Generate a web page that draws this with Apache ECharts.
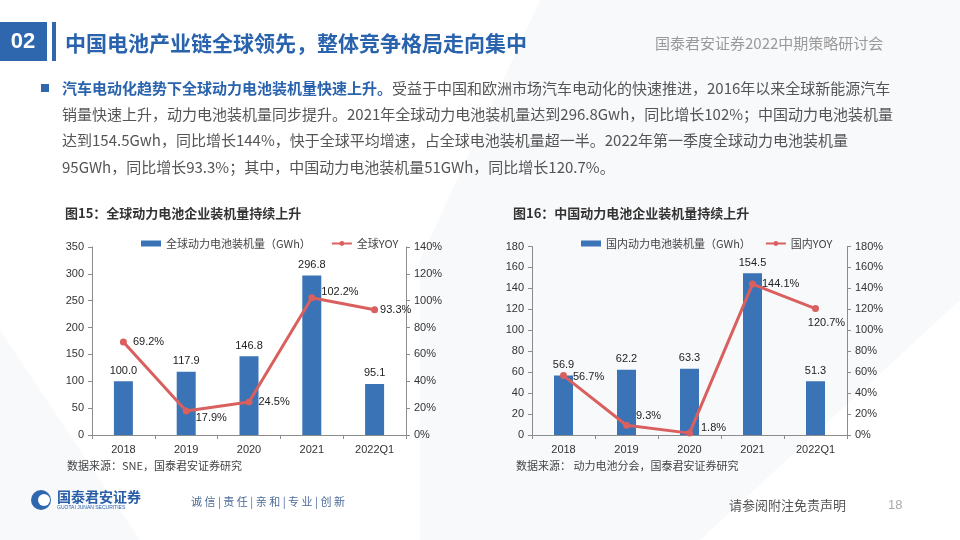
<!DOCTYPE html>
<html><head><meta charset="utf-8">
<script src="https://cdn.jsdelivr.net/npm/echarts@6/dist/echarts.min.js"></script>
<style>html,body{margin:0;padding:0;background:#fff}#c{width:960px;height:540px}</style>
</head><body><div id="c"></div>
<script>
const categories = ['2018', '2019', '2020', '2021', '2022Q1'];
const globalVolume = [100.0, 117.9, 146.8, 296.8, 95.1];
const globalYoY = [69.2, 17.9, 24.5, 102.2, 93.3];
const chinaVolume = [56.9, 62.2, 63.3, 154.5, 51.3];
const chinaYoY = [56.7, 9.3, 1.8, 144.1, 120.7];
const leftTicks1 = { min: 0, max: 350, interval: 50 };
const rightTicks1 = { min: 0, max: 140, interval: 20 };
const leftTicks2 = { min: 0, max: 180, interval: 20 };
const rightTicks2 = { min: 0, max: 180, interval: 20 };

const FONT = '"Liberation Sans", "Noto Sans CJK SC", sans-serif';
const CJK = '"Noto Sans CJK SC", "Liberation Sans", sans-serif';
const BAR = '#3a73b6';
const LINE = '#d9605f';
const AX = '#8c8c8c';

// label placement for line points (style only)
const yoyLabel1 = [
  { position: 'right', offset: [0, 0] },
  { position: 'right', offset: [0, 7] },
  { position: 'right', offset: [0, 0] },
  { position: 'right', offset: [0, -6] },
  { position: 'right', offset: [-4, 0] }
];
const yoyLabel2 = [
  { position: 'right', offset: [0, 1] },
  { position: 'right', offset: [0, -9] },
  { position: 'right', offset: [2, -5] },
  { position: 'right', offset: [0, 0] },
  { position: 'bottom', offset: [11, -1] }
];

function lineData(vals, labels) {
  return vals.map((v, i) => ({ value: v, label: labels[i] }));
}

function yAxisL(t, grid) {
  return {
    type: 'value', gridIndex: grid, min: t.min, max: t.max, interval: t.interval,
    axisLine: { show: true, lineStyle: { color: AX } },
    axisTick: { show: true, length: 4, lineStyle: { color: AX } },
    splitLine: { show: false },
    axisLabel: { color: '#333', fontSize: 11, fontFamily: FONT, margin: 8 }
  };
}
function yAxisR(t, grid) {
  return {
    type: 'value', gridIndex: grid, position: 'right', min: t.min, max: t.max, interval: t.interval,
    axisLine: { show: true, lineStyle: { color: AX } },
    axisTick: { show: true, length: 4, lineStyle: { color: AX } },
    splitLine: { show: false },
    axisLabel: { color: '#333', fontSize: 11, fontFamily: FONT, margin: 8, formatter: '{value}%' }
  };
}
function xAxis(grid) {
  return {
    type: 'category', gridIndex: grid, data: categories,
    axisLine: { lineStyle: { color: AX } },
    axisTick: { show: true, length: 4, lineStyle: { color: AX } },
    axisLabel: { color: '#333', fontSize: 11, fontFamily: FONT, margin: 9 }
  };
}
const lblStyle = { color: '#222', fontSize: 11, fontFamily: FONT };

const chart = echarts.init(document.getElementById('c'), null, { renderer: 'canvas' });
chart.setOption({
  animation: false,
  backgroundColor: '#ffffff',
  grid: [
    { left: 92, right: 554, top: 247, bottom: 105 },
    { left: 532, right: 113, top: 246.5, bottom: 105 }
  ],
  legend: [
    { left: 136, top: 233, itemWidth: 20, itemHeight: 6, itemGap: 20,
      data: [{ name: '全球动力电池装机量（GWh）', icon: 'rect' }, { name: '全球YOY' }],
      textStyle: { fontSize: 11, color: '#444', fontFamily: CJK } },
    { left: 576, top: 233, itemWidth: 20, itemHeight: 6, itemGap: 14,
      data: [{ name: '国内动力电池装机量（GWh）', icon: 'rect' }, { name: '国内YOY' }],
      textStyle: { fontSize: 11, color: '#444', fontFamily: CJK } }
  ],
  xAxis: [xAxis(0), xAxis(1)],
  yAxis: [yAxisL(leftTicks1, 0), yAxisR(rightTicks1, 0), yAxisL(leftTicks2, 1), yAxisR(rightTicks2, 1)],
  series: [
    { name: '全球动力电池装机量（GWh）', type: 'bar', xAxisIndex: 0, yAxisIndex: 0, data: globalVolume,
      barWidth: 19, itemStyle: { color: BAR },
      label: { show: true, position: 'top', distance: 5, formatter: p => p.value.toFixed(1), ...lblStyle } },
    { name: '全球YOY', type: 'line', xAxisIndex: 0, yAxisIndex: 1, data: lineData(globalYoY, yoyLabel1),
      symbol: 'circle', symbolSize: 7, lineStyle: { color: LINE, width: 3 }, itemStyle: { color: LINE },
      label: { show: true, distance: 6, formatter: p => p.value.toFixed(1) + '%', ...lblStyle } },
    { name: '国内动力电池装机量（GWh）', type: 'bar', xAxisIndex: 1, yAxisIndex: 2, data: chinaVolume,
      barWidth: 19, itemStyle: { color: BAR },
      label: { show: true, position: 'top', distance: 5, formatter: p => p.value.toFixed(1), ...lblStyle } },
    { name: '国内YOY', type: 'line', xAxisIndex: 1, yAxisIndex: 3, data: lineData(chinaYoY, yoyLabel2),
      symbol: 'circle', symbolSize: 7, lineStyle: { color: LINE, width: 3 }, itemStyle: { color: LINE },
      label: { show: true, distance: 6, formatter: p => p.value.toFixed(1) + '%', ...lblStyle } }
  ],
  graphic: [
    // faint background shapes
    { type: 'polygon', silent: true, z: -10, shape: { points: [[540, 0], [960, 0], [960, 300], [700, 540], [420, 540], [420, 260]] },
      style: { fill: 'rgba(240,242,246,0.45)' } },
    { type: 'polygon', silent: true, z: -10, shape: { points: [[0, 330], [140, 540], [0, 540]] },
      style: { fill: 'rgba(235,240,246,0.4)' } },
    // header
    { type: 'rect', shape: { x: 0, y: 22, width: 47, height: 39 }, style: { fill: '#2f67ae' } },
    { type: 'text', style: { x: 23, y: 42, text: '02', fill: '#fff', font: 'bold 22px ' + FONT, align: 'center', verticalAlign: 'middle' } },
    { type: 'rect', shape: { x: 52, y: 22, width: 4, height: 39 }, style: { fill: '#2f67ae' } },
    { type: 'text', style: { x: 65, y: 43, text: '中国电池产业链全球领先，整体竞争格局走向集中', fill: '#2a63ad', font: 'bold 21px ' + CJK, verticalAlign: 'middle' } },
    { type: 'text', style: { x: 655, y: 43, text: '国泰君安证券2022中期策略研讨会', fill: '#9a9a9a', font: '15px ' + CJK, verticalAlign: 'middle' } },
    // paragraph
    { type: 'rect', shape: { x: 41, y: 84, width: 8, height: 8 }, style: { fill: '#2f67ae' } },
    { type: 'text', style: { x: 62, y: 88, verticalAlign: 'middle',
      text: '{b|汽车电动化趋势下全球动力电池装机量快速上升。}{n|受益于中国和欧洲市场汽车电动化的快速推进，2016年以来全球新能源汽车}',
      rich: { b: { fill: '#2a63ad', font: 'bold 15px ' + CJK }, n: { fill: '#555', font: '15px ' + CJK } } } },
    { type: 'text', style: { x: 62, y: 114, verticalAlign: 'middle', fill: '#555', font: '15px ' + CJK,
      text: '销量快速上升，动力电池装机量同步提升。2021年全球动力电池装机量达到296.8Gwh，同比增长102%；中国动力电池装机量' } },
    { type: 'text', style: { x: 62, y: 140, verticalAlign: 'middle', fill: '#555', font: '15px ' + CJK,
      text: '达到154.5Gwh，同比增长144%，快于全球平均增速，占全球电池装机量超一半。2022年第一季度全球动力电池装机量' } },
    { type: 'text', style: { x: 62, y: 167, verticalAlign: 'middle', fill: '#555', font: '15px ' + CJK,
      text: '95GWh，同比增长93.3%；其中，中国动力电池装机量51GWh，同比增长120.7%。' } },
    // chart titles
    { type: 'text', style: { x: 65, y: 213, verticalAlign: 'middle', fill: '#333', font: 'bold 13px ' + CJK, text: '图15：全球动力电池企业装机量持续上升' } },
    { type: 'text', style: { x: 513, y: 213, verticalAlign: 'middle', fill: '#333', font: 'bold 13px ' + CJK, text: '图16：中国动力电池企业装机量持续上升' } },
    // sources
    { type: 'text', style: { x: 67, y: 466, verticalAlign: 'middle', fill: '#444', font: '11px ' + CJK, text: '数据来源：SNE，国泰君安证券研究' } },
    { type: 'text', style: { x: 516, y: 466, verticalAlign: 'middle', fill: '#444', font: '11px ' + CJK, text: '数据来源： 动力电池分会，国泰君安证券研究' } },
    // footer
    { type: 'circle', shape: { cx: 41, cy: 500, r: 10 }, style: { fill: '#2f67ae' } },
    { type: 'circle', shape: { cx: 44, cy: 500, r: 6 }, style: { fill: '#fff' } },
    { type: 'text', style: { x: 57, y: 497, verticalAlign: 'middle', fill: '#2a5ea8', font: 'bold 14px ' + CJK, text: '国泰君安证券' } },
    { type: 'text', style: { x: 57, y: 508, verticalAlign: 'middle', fill: '#2a5ea8', font: '5px ' + FONT, text: 'GUOTAI JUNAN SECURITIES' } },
    { type: 'text', style: { x: 191, y: 502, verticalAlign: 'middle', fill: '#4d6b99', font: '11px ' + CJK, text: '诚 信 | 责 任 | 亲 和 | 专 业 | 创 新' } },
    { type: 'text', style: { x: 729, y: 505, verticalAlign: 'middle', fill: '#555', font: '13px ' + CJK, text: '请参阅附注免责声明' } },
    { type: 'text', style: { x: 888, y: 505, verticalAlign: 'middle', fill: '#aaa', font: '13px ' + FONT, text: '18' } }
  ]
});
</script></body></html>
